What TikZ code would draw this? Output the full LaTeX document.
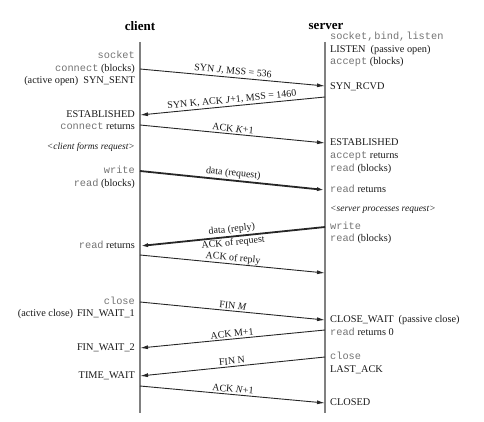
\documentclass[tikz,border=0pt]{standalone}
\usepackage{fontspec}
\setmainfont{Liberation Serif}
\setmonofont{Liberation Mono}
\usetikzlibrary{arrows.meta}
\newcommand\apicall[1]{\textcolor{black!55}{\texttt{#1}}}
\begin{document}
\begin{tikzpicture}[x=1pt,y=-1pt,
  lbl/.style={inner sep=0pt, text=black!90, font=\fontsize{10.3}{12}\selectfont, text height=7pt, text depth=2pt},
  lft/.style={lbl, anchor=east},
  rgt/.style={lbl, anchor=west},
  note/.style={font=\fontsize{9.5}{11}\selectfont\itshape},
  head/.style={font=\fontsize{13}{15}\selectfont\bfseries, inner sep=0pt},
  tline/.style={draw=black!50, line width=1.1pt},
  msg/.style={draw=black!85, line width=0.9pt, -{Latex[length=8pt,width=4pt]}},
  dmsg/.style={msg, line width=1.8pt},
  mlab/.style={font=\fontsize{10}{12}\selectfont, text=black!90, sloped, above, inner sep=1.5pt, midway},
]
\useasboundingbox (0,0) rectangle (484,422);
% headers
\node[head] (client) at (140,26) {client};
\node[head] (server) at (326,26) {server};
% timelines
\coordinate (ctop) at (140,42); \coordinate (cbot) at (140,413);
\coordinate (stop) at (325,42); \coordinate (sbot) at (325,413);
\draw[tline] (ctop) -- (cbot);
\draw[tline] (stop) -- (sbot);
% message endpoints
\coordinate (c1) at (140,69);  \coordinate (s1) at (325,86);
\coordinate (s2) at (325,97);  \coordinate (c2) at (140,115);
\coordinate (c3) at (140,125); \coordinate (s3) at (325,143);
\coordinate (c4) at (140,171); \coordinate (s4) at (325,190);
\coordinate (s5) at (325,227); \coordinate (c5) at (140,246);
\coordinate (c6) at (140,255); \coordinate (s6) at (325,273);
\coordinate (c7) at (140,302); \coordinate (s7) at (325,320);
\coordinate (s8) at (325,330); \coordinate (c8) at (140,348);
\coordinate (s9) at (325,357); \coordinate (c9) at (140,376);
\coordinate (c10) at (140,386); \coordinate (s10) at (325,403);
% messages
\draw[msg] (c1) -- node[mlab] (m1) {SYN \textit{J}, MSS = 536} (s1);
\draw[msg] (s2) -- node[mlab] (m2) {SYN K, ACK \textit{J}+1, MSS = 1460} (c2);
\draw[msg] (c3) -- node[mlab] (m3) {ACK \textit{K}+1} (s3);
\draw[dmsg] (c4) -- node[mlab] (m4) {data (request)} (s4);
\draw[dmsg] (s5) -- node[mlab] (m5) {data (reply)} node[mlab, below, inner sep=1pt] (m5b) {ACK of request} (c5);
\draw[msg] (c6) -- node[mlab, inner sep=0.5pt] (m6) {ACK of reply} (s6);
\draw[msg] (c7) -- node[mlab] (m7) {FIN \textit{M}} (s7);
\draw[msg] (s8) -- node[mlab] (m8) {ACK M+1} (c8);
\draw[msg] (s9) -- node[mlab] (m9) {FIN N} (c9);
\draw[msg] (c10) -- node[mlab] (m10) {ACK \textit{N}+1} (s10);
% client labels
\node[lft] (l1) at (135,56) {\apicall{socket}};
\node[lft] (l2) at (135,69) {\apicall{connect} (blocks)};
\node[lft] (l3) at (135,81) {(active open)\hspace{5pt}SYN\_SENT};
\node[lft] (l4) at (135,115) {ESTABLISHED};
\node[lft] (l5) at (135,127) {\apicall{connect} returns};
\node[lft, note] (l6) at (135,147) {<client forms request>};
\node[lft] (l7) at (135,171) {\apicall{write}};
\node[lft] (l8) at (135,184) {\apicall{read} (blocks)};
\node[lft] (l9) at (135,246) {\apicall{read} returns};
\node[lft] (l10) at (135,302) {\apicall{close}};
\node[lft] (l11) at (135,314) {(active close)\hspace{4pt}FIN\_WAIT\_1};
\node[lft] (l12) at (135,348) {FIN\_WAIT\_2};
\node[lft] (l13) at (135,376) {TIME\_WAIT};
% server labels
\node[rgt] (r1) at (330,37) {\apicall{socket,\hspace{1pt}bind,\hspace{1pt}listen}};
\node[rgt] (r2) at (330,50) {LISTEN\hspace{5pt}(passive open)};
\node[rgt] (r3) at (330,62) {\apicall{accept} (blocks)};
\node[rgt] (r4) at (330,87) {SYN\_RCVD};
\node[rgt] (r5) at (330,143) {ESTABLISHED};
\node[rgt] (r6) at (330,156) {\apicall{accept} returns};
\node[rgt] (r7) at (330,169) {\apicall{read} (blocks)};
\node[rgt] (r8) at (330,190) {\apicall{read} returns};
\node[rgt, note] (r9) at (330,209) {<server processes request>};
\node[rgt] (r10) at (330,227) {\apicall{write}};
\node[rgt] (r11) at (330,239) {\apicall{read} (blocks)};
\node[rgt] (r12) at (330,320) {CLOSE\_WAIT\hspace{5pt}(passive close)};
\node[rgt] (r13) at (330,333) {\apicall{read} returns 0};
\node[rgt] (r14) at (330,357) {\apicall{close}};
\node[rgt] (r15) at (330,370) {LAST\_ACK};
\node[rgt] (r16) at (330,403) {CLOSED};
\end{tikzpicture}
\end{document}
